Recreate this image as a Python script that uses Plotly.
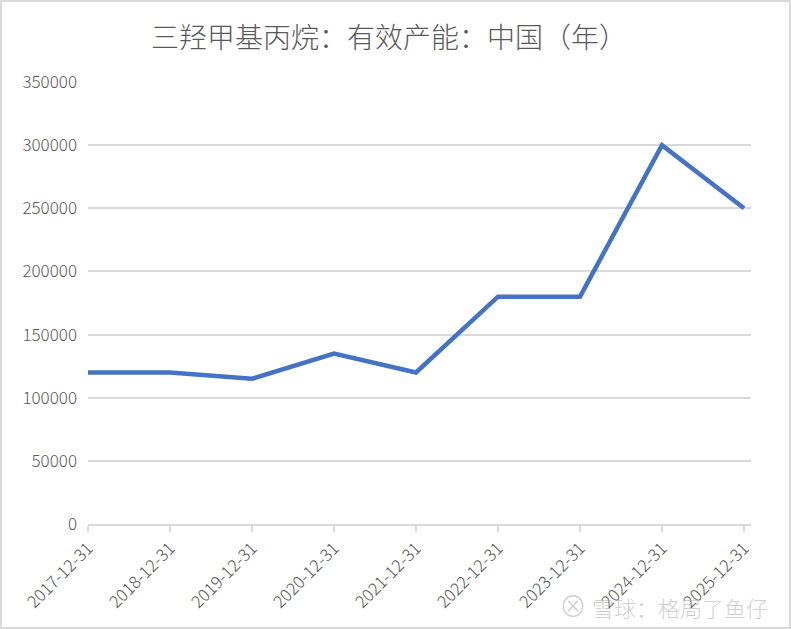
import plotly.graph_objects as go

categories = ["2017-12-31", "2018-12-31", "2019-12-31", "2020-12-31", "2021-12-31",
              "2022-12-31", "2023-12-31", "2024-12-31", "2025-12-31"]
capacity = [120000, 120000, 115000, 135000, 120000, 180000, 180000, 300000, 250000]
y_ticks = [0, 50000, 100000, 150000, 200000, 250000, 300000, 350000]

W, H = 791, 629
L, R, T, B = 88, 40, 82, 105
pw, ph = W - L - R, H - T - B
n = len(categories)
step_px = (744 - 88) / (n - 1)
FONT = "Noto Sans CJK SC, sans-serif"

fig = go.Figure()
fig.add_trace(go.Scatter(
    x=list(range(n)), y=capacity, mode="lines",
    line=dict(color="#4472C4", width=4.5), hoverinfo="skip"))

fig.update_layout(
    width=W, height=H,
    margin=dict(l=L, r=R, t=T, b=B),
    paper_bgcolor="white", plot_bgcolor="white",
    showlegend=False,
    font=dict(family=FONT, color="#595959", size=17, weight=300),
    title=dict(text="三羟甲基丙烷：有效产能：中国（年）", x=(389) / W, xanchor="center",
               y=1 - 38 / H, yanchor="middle",
               font=dict(size=28, color="#595959", family=FONT, weight=300)),
    xaxis=dict(range=[0, (n - 1) + (751 - 744) / step_px], tickmode="array",
               tickvals=list(range(n)), ticktext=categories,
               tickangle=-45, showgrid=False, zeroline=False,
               showline=True, linecolor="#d9d9d9", linewidth=1.5,
               ticks="outside", ticklen=6, tickcolor="#d9d9d9", tickwidth=1.5,
               tickfont=dict(size=17, color="#595959", family=FONT, weight=300)),
    yaxis=dict(range=[0, 350000], tickmode="array", tickvals=y_ticks,
               ticktext=[str(v) for v in y_ticks],
               showgrid=True, gridcolor="#d9d9d9", gridwidth=1.5,
               zeroline=False, showline=False, ticks="", ticklabelstandoff=10,
               tickfont=dict(size=17, color="#595959", family=FONT, weight=300)),
)

# outer border
fig.add_shape(type="rect", xref="paper", yref="paper",
              x0=-(L - 1) / pw, x1=1 + (R - 1) / pw, y0=-(B - 1) / ph, y1=1 + (T - 1) / ph,
              line=dict(color="#d9d9d9", width=2), fillcolor="rgba(0,0,0,0)", layer="below")

# watermark
fig.add_annotation(text="<span style='font-size:28px'>⊗</span> 雪球：格局了鱼仔",
                   xref="paper", yref="paper",
                   x=(770 - L) / pw, y=-(605 - T - ph) / ph, xanchor="right", yanchor="middle",
                   showarrow=False,
                   font=dict(size=22, color="rgba(175,175,175,0.6)", family=FONT))

fig.write_html("out.html", config={"displayModeBar": False},
               post_script="document.body.style.margin='0';")
